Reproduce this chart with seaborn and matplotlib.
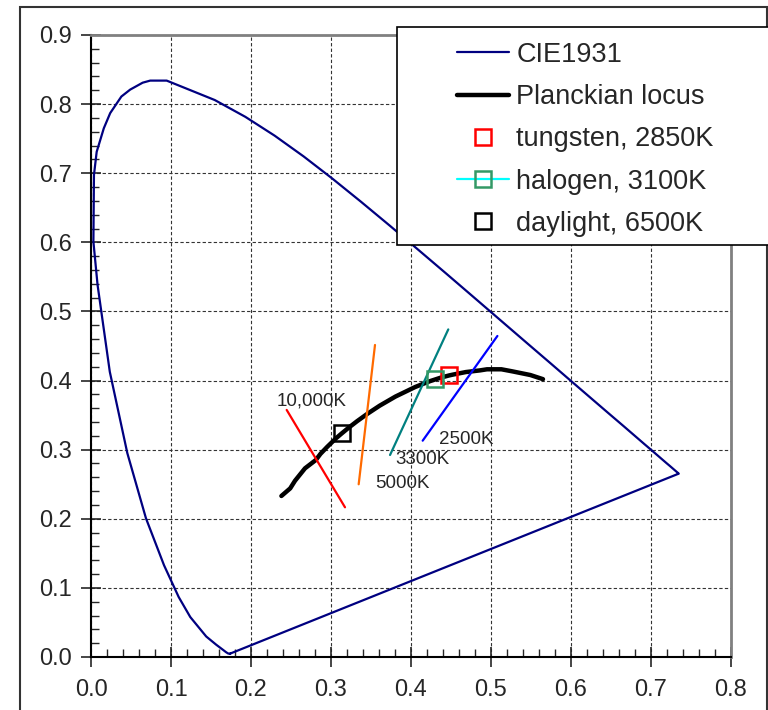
import numpy as np
import matplotlib
matplotlib.use('Agg')
import matplotlib.pyplot as plt
import seaborn as sns
from matplotlib.patches import Rectangle

# CIE1931 spectral locus (closed with the purple line back to the blue end)
locus_x = [0.1741, 0.1738, 0.1733, 0.1726, 0.1714, 0.1689, 0.1644, 0.1566, 0.1440,
           0.1241, 0.1096, 0.0913, 0.0687, 0.0454, 0.0235, 0.0082, 0.0030, 0.0037,
           0.0071, 0.0160, 0.0240, 0.0310, 0.0380, 0.0490, 0.0646, 0.0740, 0.0946,
           0.1547, 0.1929, 0.2296, 0.2658, 0.3016, 0.3373, 0.3731, 0.4087, 0.4441,
           0.4788, 0.5125, 0.5448, 0.5752, 0.6029, 0.6270, 0.6482, 0.6658, 0.6801,
           0.6915, 0.7006, 0.7079, 0.7140, 0.7190, 0.7230, 0.7260, 0.7283, 0.7300,
           0.7311, 0.7334, 0.7347, 0.1741]
locus_y = [0.0050, 0.0049, 0.0048, 0.0048, 0.0051, 0.0069, 0.0109, 0.0177, 0.0297,
           0.0578, 0.0868, 0.1327, 0.2007, 0.2950, 0.4127, 0.5384, 0.6010, 0.6975,
           0.7310, 0.7650, 0.7870, 0.7990, 0.8110, 0.8210, 0.8310, 0.8340, 0.8340,
           0.8059, 0.7816, 0.7543, 0.7243, 0.6923, 0.6589, 0.6245, 0.5896, 0.5547,
           0.5202, 0.4866, 0.4544, 0.4242, 0.3965, 0.3725, 0.3514, 0.3340, 0.3197,
           0.3083, 0.2993, 0.2920, 0.2859, 0.2809, 0.2770, 0.2740, 0.2717, 0.2700,
           0.2689, 0.2666, 0.2653, 0.0050]

# Planckian locus
planck_x = [0.2380, 0.2490, 0.2550, 0.2675, 0.2810, 0.2869, 0.2952, 0.3064, 0.3135,
            0.3221, 0.3325, 0.3451, 0.3608, 0.3805, 0.4053, 0.4234, 0.4369, 0.4476,
            0.4528, 0.4686, 0.4862, 0.4950, 0.5130, 0.5267, 0.5492, 0.5650]
planck_y = [0.2330, 0.2440, 0.2550, 0.2730, 0.2850, 0.2940, 0.3040, 0.3166, 0.3236,
            0.3318, 0.3411, 0.3516, 0.3636, 0.3768, 0.3907, 0.3990, 0.4041, 0.4074,
            0.4087, 0.4123, 0.4147, 0.4163, 0.4163, 0.4133, 0.4080, 0.4020]

# light sources
sources = ['tungsten, 2850K', 'halogen, 3100K', 'daylight, 6500K']
source_x = [0.4476, 0.4301, 0.3135]
source_y = [0.4074, 0.4016, 0.3236]

# isotemperature lines (two end points each)
iso_labels = ['10,000K', '5000K', '3300K', '2500K']
iso_x = [[0.2446, 0.3175], [0.3550, 0.3346], [0.4466, 0.3738], [0.5080, 0.4146]]
iso_y = [[0.3575, 0.2166], [0.4515, 0.2499], [0.4740, 0.2923], [0.4645, 0.3130]]
iso_colors = ['#ff0000', '#ff6a00', '#008080', '#0000ff']
label_x = [0.2325, 0.3550, 0.3810, 0.4354]
label_y = [0.3710, 0.2508, 0.2856, 0.3145]

sns.set_style('white')
plt.rcParams['font.family'] = ['Liberation Sans', 'DejaVu Sans']

fig = plt.figure(figsize=(7.68, 7.10), dpi=100)
ax = fig.add_axes([0.11849, 0.07465, 0.83333, 0.87606])

sns.lineplot(x=locus_x, y=locus_y, sort=False, estimator=None, color='#000080',
             lw=1.6, label='CIE1931', ax=ax)
sns.lineplot(x=planck_x, y=planck_y, sort=False, estimator=None, color='black',
             lw=3.2, label='Planckian locus', ax=ax)

for xs, ys, c in zip(iso_x, iso_y, iso_colors):
    sns.lineplot(x=xs, y=ys, sort=False, estimator=None, color=c, lw=1.6, ax=ax)
for lx, ly, t in zip(label_x, label_y, iso_labels):
    ax.text(lx, ly, t, fontsize=13.5, va='center', ha='left')

src_styles = [dict(color='red', ls='none', mec='red'),
              dict(color='cyan', ls='-', mec='#339966'),
              dict(color='black', ls='none', mec='black')]
for sx, sy, name, st in zip(source_x, source_y, sources, src_styles):
    sns.lineplot(x=[sx], y=[sy], estimator=None, marker='s', ms=11.5, mew=1.8,
                 mfc='none', lw=1.6, label=name, ax=ax, zorder=5, **st)

handles, labels = ax.get_legend_handles_labels()
ax.get_legend().remove()

ax.set_xlim(0, 0.8)
ax.set_ylim(0, 0.9)
ax.set_xticks(np.arange(0, 0.81, 0.1))
ax.set_yticks(np.arange(0, 0.91, 0.1))
ax.set_xticks(np.arange(0, 0.801, 0.02), minor=True)
ax.set_yticks(np.arange(0, 0.901, 0.02), minor=True)
ax.set_xticklabels([f'{v:.1f}' for v in np.arange(0, 0.81, 0.1)])
ax.set_yticklabels([f'{v:.1f}' for v in np.arange(0, 0.91, 0.1)])
ax.tick_params(which='major', direction='inout', length=14, width=1.2,
               labelsize=17, bottom=True, left=True)
ax.tick_params(which='minor', direction='in', length=6, width=1,
               bottom=True, left=True)
ax.tick_params(axis='x', pad=9)
ax.tick_params(axis='y', pad=7)
ax.grid(True, which='major', color='#333333', lw=0.8, ls=(0, (3, 2)))
ax.set_axisbelow(True)
for s in ['left', 'bottom']:
    ax.spines[s].set_color('black')
    ax.spines[s].set_linewidth(1.5)
for s in ['top', 'right']:
    ax.spines[s].set_color('#808080')
    ax.spines[s].set_linewidth(2)

# outer chart border and legend box
fig.add_artist(Rectangle((0.026, -0.05), 0.9725, 1.04, transform=fig.transFigure,
                         fill=False, ec='#333333', lw=1.5, zorder=0))
fig.add_artist(Rectangle((0.517, 0.655), 0.5, 0.307, transform=fig.transFigure,
                         fc='white', ec='black', lw=1.2, zorder=3))
fig.legend(handles, labels, loc='upper left', bbox_to_anchor=(0.5947, 0.941),
           bbox_transform=fig.transFigure, frameon=False, borderpad=0,
           borderaxespad=0, handlelength=1.93, handletextpad=0.27,
           labelspacing=0.6, fontsize=19.5, numpoints=1)

fig.savefig('out.png', dpi=100)
